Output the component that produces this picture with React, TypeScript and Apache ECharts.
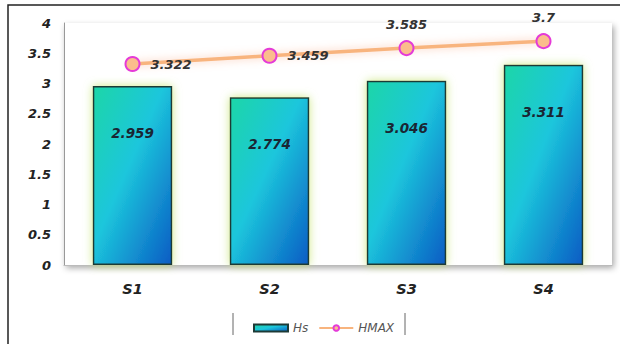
import React, { useEffect, useRef } from "react";
import * as echarts from "echarts";

const categories = ["S1", "S2", "S3", "S4"];
const hsValues = [2.959, 2.774, 3.046, 3.311];
const hmaxValues = [3.322, 3.459, 3.585, 3.7];
const hmaxLabelPos = ["right", "right", "top", "top"];
const yTicks = [0, 0.5, 1, 1.5, 2, 2.5, 3, 3.5, 4];

const FONT = "'DejaVu Sans', Verdana, sans-serif";

export default function App() {
  const ref = useRef<HTMLDivElement>(null);
  useEffect(() => {
    if (!ref.current) return;
    const chart = echarts.init(ref.current, null, { renderer: "svg" });
    const barGrad = new echarts.graphic.LinearGradient(0, 0, 1, 1, [
      { offset: 0, color: "#1fd6a8" },
      { offset: 0.45, color: "#1cc6dc" },
      { offset: 1, color: "#0a5cc4" },
    ]);
    chart.setOption({
      animation: false,
      backgroundColor: "#ffffff",
      grid: {
        left: 64,
        right: 8,
        top: 23,
        bottom: 79,
        show: true,
        backgroundColor: "#ffffff",
        borderWidth: 0,
        shadowColor: "rgba(0,0,0,0.35)",
        shadowBlur: 6,
        shadowOffsetX: 2,
        shadowOffsetY: 3,
      },
      graphic: [
        {
          type: "rect",
          shape: { x: 8, y: 5, width: 700, height: 400 },
          style: { fill: "none", stroke: "#222", lineWidth: 1.5 },
          silent: true,
          z: 0,
        },
        {
          type: "line",
          shape: { x1: 233, y1: 313, x2: 233, y2: 335 },
          style: { stroke: "#666", lineWidth: 1 },
        },
        {
          type: "line",
          shape: { x1: 405, y1: 313, x2: 405, y2: 335 },
          style: { stroke: "#666", lineWidth: 1 },
        },
      ],
      legend: {
        left: 248,
        top: 317,
        itemWidth: 34,
        itemHeight: 7,
        itemGap: 10,
        textStyle: {
          fontFamily: FONT,
          fontStyle: "italic",
          fontSize: 12,
          color: "#555",
        },
        data: [
          { name: "Hs", icon: "rect" },
          { name: "HMAX" },
        ],
      },
      xAxis: {
        type: "category",
        data: categories,
        axisLine: { show: true, lineStyle: { color: "#bbb" } },
        axisTick: { show: false },
        axisLabel: {
          margin: 16,
          fontFamily: FONT,
          fontStyle: "italic",
          fontWeight: "bold",
          fontSize: 14.5,
          color: "#222",
        },
      },
      yAxis: {
        type: "value",
        min: 0,
        max: 4,
        interval: 0.5,
        axisLine: { show: true, lineStyle: { color: "#999" } },
        axisTick: { show: false },
        splitLine: { show: false },
        axisLabel: {
          margin: 13,
          fontFamily: FONT,
          fontStyle: "italic",
          fontWeight: "bold",
          fontSize: 13,
          color: "#222",
          formatter: (v: number) => (yTicks.includes(v) ? String(v) : ""),
        },
      },
      series: [
        {
          name: "Hs",
          type: "bar",
          data: hsValues,
          barWidth: "58%",
          itemStyle: {
            color: barGrad,
            borderColor: "#1d3a36",
            borderWidth: 1.5,
            shadowColor: "rgba(200,230,120,0.9)",
            shadowBlur: 10,
          },
          label: {
            show: true,
            position: "insideTop",
            distance: 40,
            fontFamily: FONT,
            fontStyle: "italic",
            fontWeight: "bold",
            fontSize: 13.5,
            color: "#1a2633",
          },
          z: 2,
        },
        {
          name: "HMAX",
          type: "line",
          data: hmaxValues.map((v, i) => ({
            value: v,
            label: { position: hmaxLabelPos[i], distance: hmaxLabelPos[i] === "right" ? 10 : 9 },
          })),
          symbol: "circle",
          symbolSize: 14,
          lineStyle: {
            color: "#f8b47e",
            width: 3.5,
            shadowColor: "rgba(248,160,120,0.6)",
            shadowBlur: 8,
          },
          itemStyle: {
            color: "#fbbd8c",
            borderColor: "#e43ad8",
            borderWidth: 2,
          },
          label: {
            show: true,
            fontFamily: FONT,
            fontStyle: "italic",
            fontWeight: "bold",
            fontSize: 13,
            color: "#333",
          },
          z: 3,
        },
      ],
    });
    return () => chart.dispose();
  }, []);
  return (
    <div
      ref={ref}
      style={{ position: "absolute", left: 0, top: 0, width: 620, height: 344 }}
    />
  );
}
